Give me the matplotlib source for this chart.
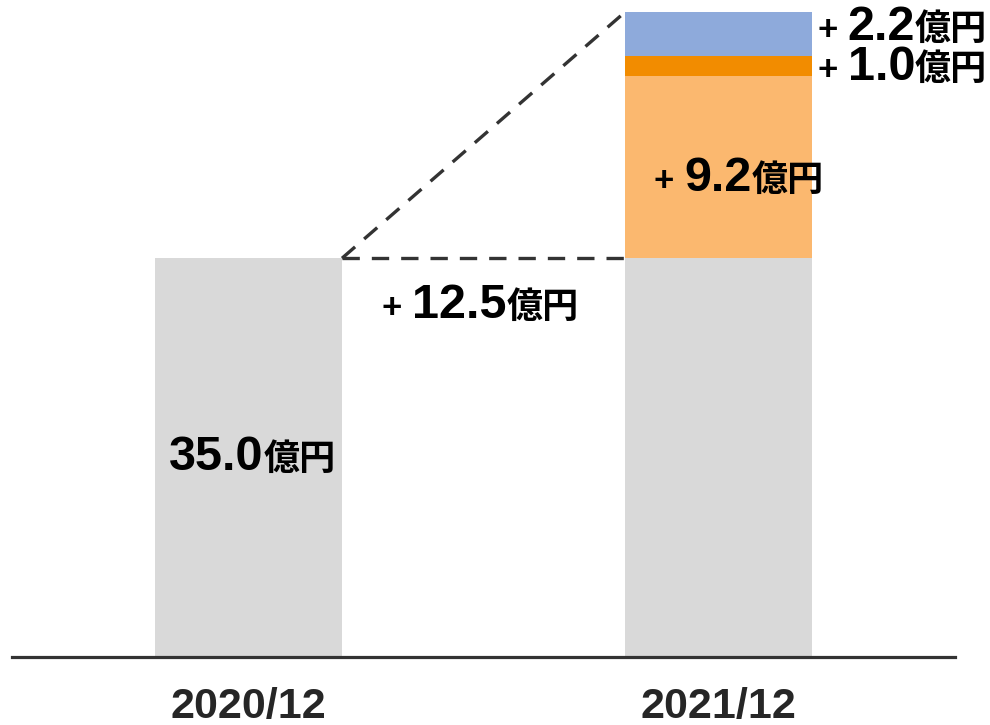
import matplotlib
matplotlib.use("Agg")
import matplotlib.pyplot as plt
from matplotlib.offsetbox import TextArea, HPacker, AnnotationBbox

# Data
periods = ["2020/12", "2021/12"]
base_value = 35.0  # 2020/12 total
increments = [9.2, 1.0, 2.2]  # stacked on top of 2021/12
total_increase = 12.5
seg_colors = ["#fbb86f", "#f28c00", "#8eaadb"]

BASE_SCALE = 0.574  # base bar drawn shortened (as in the source chart)
GRAY = "#d9d9d9"
DARK = "#333333"
NUM_FONT = "Liberation Sans"
JP_FONT = ["Noto Sans CJK JP", "DejaVu Sans"]

fig = plt.figure(figsize=(9.9, 7.25), dpi=100)
ax = fig.add_axes([12 / 990, 68 / 725, 943 / 990, 655 / 725])
ax.set_xlim(-0.503, 1.503)
ax.set_ylim(0, 33)
ax.axis("off")

x = [0, 1]
w = 0.398
base_h = base_value * BASE_SCALE

ax.bar(x, [base_h, base_h], width=w, color=GRAY, zorder=2)
bottom = base_h
for val, col in zip(increments, seg_colors):
    ax.bar(x[1], val, width=w, bottom=bottom, color=col, zorder=2)
    bottom += val
top = bottom

# baseline
ax.axhline(0, color=DARK, lw=2.3, zorder=3, clip_on=False)

# dashed connectors
dash_kw = dict(color=DARK, lw=2.4, dashes=(5.2, 3.6), zorder=3, clip_on=False)
ax.plot([x[0] + w / 2, x[1] - w / 2], [base_h, base_h], **dash_kw)
ax.plot([x[0] + w / 2, x[1] - w / 2], [base_h, top], **dash_kw)


def label(xy, value_text, plus=True, align=(0, 0.5), offset=(0, 0)):
    parts = []
    if plus:
        parts.append(TextArea("+ ", textprops=dict(fontsize=25, fontweight="bold",
                                                   family=NUM_FONT, color="black")))
    parts.append(TextArea(value_text, textprops=dict(fontsize=35, fontweight="bold",
                                                     family=NUM_FONT, color="black")))
    parts.append(TextArea("億円", textprops=dict(fontsize=26, fontweight="bold",
                                               family=JP_FONT, color="black")))
    pack = HPacker(children=parts, align="baseline", pad=0, sep=0)
    ab = AnnotationBbox(pack, xy, xycoords="data", box_alignment=align, frameon=False,
                        pad=0, xybox=offset, boxcoords="offset points", zorder=5)
    ax.add_artist(ab)


label((x[0], base_h / 2), f"{base_value:.1f}", plus=False, align=(0.5, 0.5), offset=(3, 0))
label((0.5, base_h), f"{total_increase:.1f}", align=(0.5, 0.5), offset=(-2, -34))

b = base_h
seg_mid = []
for val in increments:
    seg_mid.append(b + val / 2)
    b += val
label((x[1] - w / 2, seg_mid[0]), f"{increments[0]:.1f}", offset=(21, -8))
label((x[1] + w / 2, seg_mid[1]), f"{increments[1]:.1f}", offset=(4, -1))
label((x[1] + w / 2, seg_mid[2]), f"{increments[2]:.1f}", offset=(4, 5))

for xi, p in zip(x, periods):
    ax.text(xi, -2.5, p, ha="center", va="center", fontsize=31, fontweight="bold",
            family=NUM_FONT, color="#262626")

fig.savefig("out.png", dpi=100)
